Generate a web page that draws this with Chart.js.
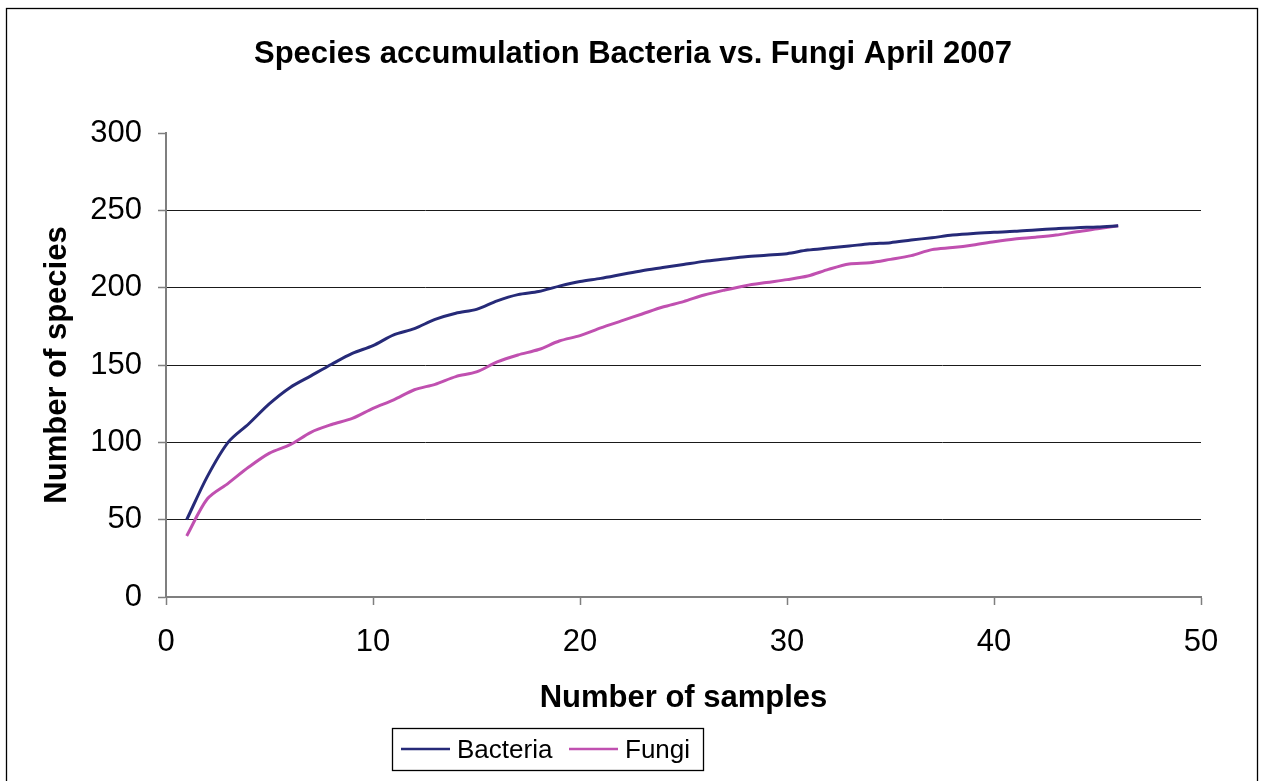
<!DOCTYPE html>
<html>
<head>
<meta charset="utf-8">
<title>Species accumulation Bacteria vs. Fungi April 2007</title>
<script src="https://cdn.jsdelivr.net/npm/chart.js@4/dist/chart.umd.min.js"></script>
<style>
  html, body { margin: 0; padding: 0; background: #fff; }
  #wrap { width: 1265px; height: 781px; }
</style>
</head>
<body>
<div id="wrap"><canvas id="chart" width="1265" height="781"></canvas></div>
<script>
// Sample counts (x) and mean accumulated species per sample count
const samples = [1, 2, 3, 4, 5, 6, 7, 8, 9, 10, 11, 12, 13, 14, 15, 16, 17, 18, 19, 20, 21, 22, 23,
                 24, 25, 26, 27, 28, 29, 30, 31, 32, 33, 34, 35, 36, 37, 38, 39, 40, 41, 42, 43, 44, 45, 46];
const bacteria = [50, 78, 100, 112, 125, 135.5, 143, 150.5, 157.5, 162.5, 169.5, 173.5, 179.5, 183.5, 186,
                  191.5, 195.5, 197.5, 201, 204, 206, 208.5, 211, 213, 215, 217, 218.5, 220, 221, 222,
                  224.3, 225.6, 226.9, 228.4, 229.1, 230.8, 232.3, 234, 235.1, 235.8, 236.4, 237.3,
                  238.1, 238.8, 239.2, 240];
const fungi = [39.5, 63.5, 73.5, 84, 93, 98.5, 106.5, 111.5, 115.5, 122, 127.5, 134, 137.5, 142.5, 145.5,
               152, 156.5, 160, 165.5, 169, 174, 178.5, 183, 187.5, 191, 195.3, 198.5, 201.3, 203.3, 205.2,
               207.5, 211.8, 215.3, 216.1, 218.3, 220.7, 224.6, 225.9, 227.6, 229.7, 231.5, 232.6,
               234, 236.2, 238.1, 240];
const seriesNames = ['Bacteria', 'Fungi'];
const xTicks = [0, 10, 20, 30, 40, 50];
const yTicks = [0, 50, 100, 150, 200, 250, 300];

const chartTitle = 'Species accumulation Bacteria vs. Fungi April 2007';
const xTitle = 'Number of samples';
const yTitle = 'Number of species';

const FONT = "'Liberation Sans', Arial, Helvetica, sans-serif";
const NAVY = '#262a78';
const MAGENTA = '#c050b0';

function toPoints(ys) {
  return samples.map((s, i) => ({ x: s, y: ys[i] }));
}

// Frame, heading, axis titles and the boxed legend
const decor = {
  id: 'decor',
  beforeDraw(chart) {
    const ctx = chart.ctx;
    ctx.save();
    ctx.fillStyle = '#fff';
    ctx.fillRect(0, 0, chart.width, chart.height);
    ctx.restore();
  },
  afterDraw(chart) {
    const ctx = chart.ctx;
    const area = chart.chartArea;
    ctx.save();

    // outer frame
    ctx.strokeStyle = '#000';
    ctx.lineWidth = 1.3;
    ctx.strokeRect(6.5, 8.5, 1251, 800);

    // heading
    ctx.fillStyle = '#000';
    ctx.font = 'bold 31px ' + FONT;
    ctx.textAlign = 'center';
    ctx.textBaseline = 'alphabetic';
    ctx.fillText(chartTitle, 633, 63);

    // x axis title
    ctx.fillText(xTitle, (area.left + area.right) / 2, 707);

    // y axis title
    ctx.save();
    ctx.translate(66, (area.top + area.bottom) / 2);
    ctx.rotate(-Math.PI / 2);
    ctx.fillText(yTitle, 0, 0);
    ctx.restore();

    // legend
    ctx.lineWidth = 1.3;
    ctx.strokeStyle = '#000';
    ctx.strokeRect(392.5, 728.5, 311, 42);
    ctx.font = '26px ' + FONT;
    ctx.textAlign = 'left';
    const starts = [401, 569];
    chart.data.datasets.forEach((ds, i) => {
      const x0 = starts[i];
      ctx.strokeStyle = ds.borderColor;
      ctx.lineWidth = 2.5;
      ctx.beginPath();
      ctx.moveTo(x0, 749);
      ctx.lineTo(x0 + 49, 749);
      ctx.stroke();
      ctx.fillStyle = '#000';
      ctx.fillText(ds.label, x0 + 56, 758);
    });
    ctx.restore();
  }
};

new Chart(document.getElementById('chart'), {
  type: 'line',
  data: {
    datasets: [
      { label: seriesNames[0], data: toPoints(bacteria), borderColor: NAVY, backgroundColor: NAVY,
        borderWidth: 3, pointRadius: 0, tension: 0.3, fill: false },
      { label: seriesNames[1], data: toPoints(fungi), borderColor: MAGENTA, backgroundColor: MAGENTA,
        borderWidth: 3, pointRadius: 0, tension: 0.3, fill: false }
    ]
  },
  options: {
    responsive: false,
    animation: false,
    events: [],
    layout: { padding: { left: 0, top: 133, right: 64, bottom: 124 } },
    plugins: {
      legend: { display: false },
      title: { display: false },
      tooltip: { enabled: false }
    },
    scales: {
      x: {
        type: 'linear',
        min: xTicks[0],
        max: xTicks[xTicks.length - 1],
        afterBuildTicks(scale) { scale.ticks = xTicks.map(v => ({ value: v })); },
        afterFit(scale) { scale.height = 60; },
        ticks: { color: '#000', font: { family: FONT, size: 31 }, padding: 19, maxRotation: 0, autoSkip: false },
        grid: { drawOnChartArea: false, drawTicks: true, tickLength: 8, tickColor: '#7f7f7f', tickWidth: 1.5 },
        border: { color: '#7f7f7f', width: 2 }
      },
      y: {
        min: yTicks[0],
        max: yTicks[yTicks.length - 1],
        afterBuildTicks(scale) { scale.ticks = yTicks.map(v => ({ value: v })); },
        afterFit(scale) { scale.width = 166; },
        ticks: { color: '#000', font: { family: FONT, size: 31 }, padding: 16, autoSkip: false },
        grid: {
          color: ctx => (ctx.tick && (ctx.tick.value === 0 || ctx.tick.value === 300)) ? 'rgba(0,0,0,0)' : '#1a1a1a',
          lineWidth: 1,
          tickLength: 8,
          tickColor: '#7f7f7f',
          tickWidth: 1.5
        },
        border: { color: '#7f7f7f', width: 2 }
      }
    }
  },
  plugins: [decor]
});
</script>
</body>
</html>
